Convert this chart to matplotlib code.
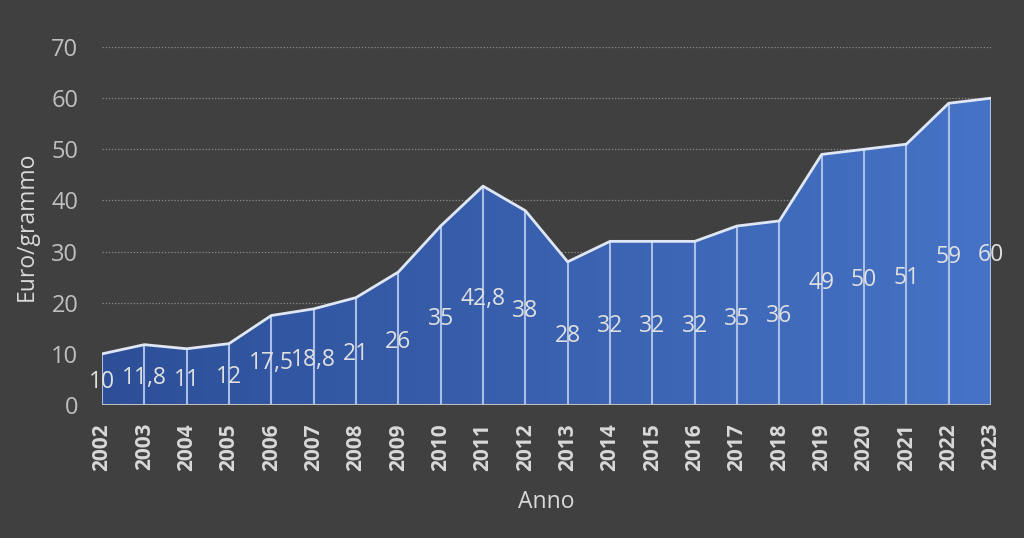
import matplotlib.pyplot as plt
import numpy as np
from matplotlib.colors import LinearSegmentedColormap

years = list(range(2002, 2024))
prices = [10, 11.8, 11, 12, 17.5, 18.8, 21, 26, 35, 42.8, 38, 28,
          32, 32, 32, 35, 36, 49, 50, 51, 59, 60]
price_labels = ["10", "11,8", "11", "12", "17,5", "18,8", "21", "26", "35", "42,8", "38", "28",
                "32", "32", "32", "35", "36", "49", "50", "51", "59", "60"]

plt.rcParams['font.family'] = ['Open Sans', 'DejaVu Sans']

bg = "#404040"
fig = plt.figure(figsize=(10.24, 5.38), dpi=100, facecolor=bg)
ax = fig.add_axes([0.0996, 0.2472, 0.8682, 0.6654])
ax.set_facecolor(bg)

ax.set_xlim(years[0], years[-1])
ax.set_ylim(0, 70)

# dotted gridlines
for y in range(10, 80, 10):
    ax.axhline(y, color="#8c8c8c", lw=0.9, ls=(0, (1, 1.5)), zorder=1)

# area with left-to-right gradient
fill = ax.fill_between(years, prices, 0, color="none", zorder=2)
cmap = LinearSegmentedColormap.from_list("blu", ["#2d4f98", "#4673c6"])
grad = np.linspace(0, 1, 256).reshape(1, -1)
img = ax.imshow(grad, cmap=cmap, aspect="auto", extent=[years[0], years[-1], 0, 70],
                origin="lower", zorder=2)
clip = fill.get_paths()[0]
img.set_clip_path(clip, transform=ax.transData)

# vertical separators
ax.vlines(years, 0, prices, color="#aabfe8", lw=1.5, zorder=3)
ax.plot(years, prices, color="#dfe6f5", lw=2, zorder=4)
ax.axhline(0, color="#bfbfbf", lw=1.5, zorder=4)

for x, v, t in zip(years, prices, price_labels):
    ax.text(x, v / 2, t, ha="center", va="center_baseline", color="#e0e0e0",
            fontsize=16.5, zorder=5)

for s in ax.spines.values():
    s.set_visible(False)

ax.set_xticks(years)
ax.set_xticklabels([str(y) for y in years], rotation=90, fontsize=15,
                   fontweight="bold", color="#d9d9d9")
ax.set_yticks(range(0, 80, 10))
ax.tick_params(axis="y", labelsize=17, labelcolor="#bfbfbf", length=0, pad=17)
ax.tick_params(axis="x", length=0, pad=13)

ax.set_xlabel("Anno", fontsize=16.5, color="#d9d9d9", labelpad=14)
ax.set_ylabel("Euro/grammo", fontsize=16.5, color="#d9d9d9", labelpad=9)

fig.savefig("out.png", dpi=100, facecolor=bg)
